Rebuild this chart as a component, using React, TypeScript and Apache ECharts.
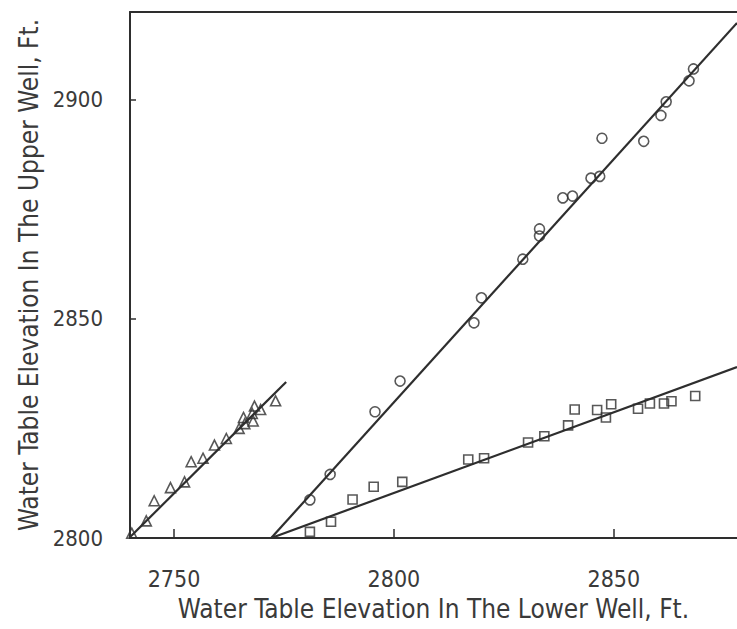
import React, { useEffect, useRef } from "react";
import * as echarts from "echarts";

// Triangles (left group)
const triangleX = [2740.4, 2743.7, 2745.5, 2749.2, 2752.4, 2753.9, 2756.6, 2759.2, 2761.9, 2764.8, 2766.1, 2765.8, 2768.0, 2767.8, 2768.3, 2769.7, 2773.1];
const triangleY = [2801.1, 2803.9, 2808.5, 2811.5, 2812.8, 2817.4, 2818.2, 2821.2, 2822.7, 2825.0, 2826.1, 2827.5, 2826.7, 2828.4, 2830.1, 2829.3, 2831.3];

// Circles (steep group)
const circleX = [2780.9, 2785.5, 2795.7, 2801.4, 2818.2, 2819.9, 2829.3, 2833.1, 2833.1, 2838.4, 2840.6, 2844.8, 2846.8, 2847.3, 2856.8, 2860.7, 2861.9, 2867.1, 2868.1];
const circleY = [2808.7, 2814.5, 2828.8, 2835.8, 2849.1, 2854.8, 2863.6, 2868.9, 2870.5, 2877.6, 2878.0, 2882.1, 2882.5, 2891.2, 2890.5, 2896.4, 2899.5, 2904.3, 2907.0];

// Squares (shallow group)
const squareX = [2780.9, 2785.7, 2790.6, 2795.4, 2801.9, 2816.9, 2820.5, 2830.5, 2834.2, 2839.6, 2841.1, 2846.2, 2849.4, 2848.2, 2855.5, 2858.2, 2861.4, 2863.1, 2868.5];
const squareY = [2801.4, 2803.7, 2808.8, 2811.7, 2812.8, 2817.9, 2818.2, 2821.8, 2823.2, 2825.7, 2829.3, 2829.2, 2830.5, 2827.5, 2829.5, 2830.7, 2830.7, 2831.2, 2832.4];

// Fitted lines (end points)
const triangleFitX = [2739.8, 2775.5];
const triangleFitY = [2800, 2835.6];
const circleFitX = [2772.1, 2878];
const circleFitY = [2800, 2917.5];
const squareFitX = [2772.1, 2878];
const squareFitY = [2800, 2839];

const xTicks = [2750, 2800, 2850];
const yTicks = [2800, 2850, 2900];

const xName = "Water Table Elevation In The Lower Well, Ft.";
const yName = "Water Table Elevation In The Upper Well, Ft.";

const zip = (a: number[], b: number[]) => a.map((v, i) => [v, b[i]]);

const FONT = "'DejaVu Sans Condensed', 'Liberation Sans Narrow', sans-serif";
const INK = "#2e2e2e";
const TEXT = "#3a3a3a";

export default function App() {
  const ref = useRef<HTMLDivElement>(null);
  useEffect(() => {
    if (!ref.current) return;
    const chart = echarts.init(ref.current, undefined, { renderer: "svg" });
    const marker = { color: "rgba(0,0,0,0)", borderColor: INK, borderWidth: 1.6 };
    const fitLine = { color: INK, width: 2.2 };
    const plain = (v: number) => String(v);
    chart.setOption({
      animation: false,
      backgroundColor: "#ffffff",
      grid: { left: 130, right: 0, top: 12, bottom: 91 },
      xAxis: [
        {
          type: "value",
          min: 2740,
          max: 2878,
          name: xName,
          nameLocation: "middle",
          nameGap: 58,
          nameTextStyle: { fontFamily: FONT, fontSize: 26, color: TEXT },
          axisLine: { show: true, lineStyle: { color: INK, width: 2 } },
          axisTick: { show: true, inside: true, length: 9, customValues: xTicks, lineStyle: { color: INK, width: 1.5 } },
          axisLabel: { show: true, customValues: xTicks, formatter: plain, margin: 29, fontFamily: FONT, fontSize: 23, color: TEXT },
          splitLine: { show: false },
        },
        {
          type: "value",
          position: "top",
          min: 2740,
          max: 2878,
          axisLine: { show: true, onZero: false, lineStyle: { color: INK, width: 2 } },
          axisTick: { show: false },
          axisLabel: { show: false },
          splitLine: { show: false },
        },
      ],
      yAxis: {
        type: "value",
        min: 2800,
        max: 2920,
        name: yName,
        nameLocation: "middle",
        nameGap: 80,
        nameTextStyle: { fontFamily: FONT, fontSize: 26, color: TEXT },
        axisLine: { show: true, lineStyle: { color: INK, width: 2 } },
        axisTick: { show: true, inside: true, length: 6, customValues: yTicks, lineStyle: { color: INK, width: 1.5 } },
        axisLabel: { show: true, customValues: yTicks, formatter: plain, margin: 27, padding: [5, 0, 0, 0], fontFamily: FONT, fontSize: 22, color: TEXT },
        splitLine: { show: false },
      },
      series: [
        { type: "line", data: zip(triangleFitX, triangleFitY), showSymbol: false, lineStyle: fitLine, z: 2 },
        { type: "line", data: zip(circleFitX, circleFitY), showSymbol: false, lineStyle: fitLine, z: 2 },
        { type: "line", data: zip(squareFitX, squareFitY), showSymbol: false, lineStyle: fitLine, z: 2 },
        { type: "scatter", data: zip(triangleX, triangleY), symbol: "triangle", symbolSize: 10, itemStyle: marker, z: 3 },
        { type: "scatter", data: zip(circleX, circleY), symbol: "circle", symbolSize: 10, itemStyle: marker, z: 3 },
        { type: "scatter", data: zip(squareX, squareY), symbol: "rect", symbolSize: 9, itemStyle: marker, z: 3 },
      ],
    });
    return () => chart.dispose();
  }, []);
  return (
    <div
      ref={ref}
      style={{ position: "fixed", left: 0, top: 0, width: 737, height: 629, background: "#fff" }}
    />
  );
}
